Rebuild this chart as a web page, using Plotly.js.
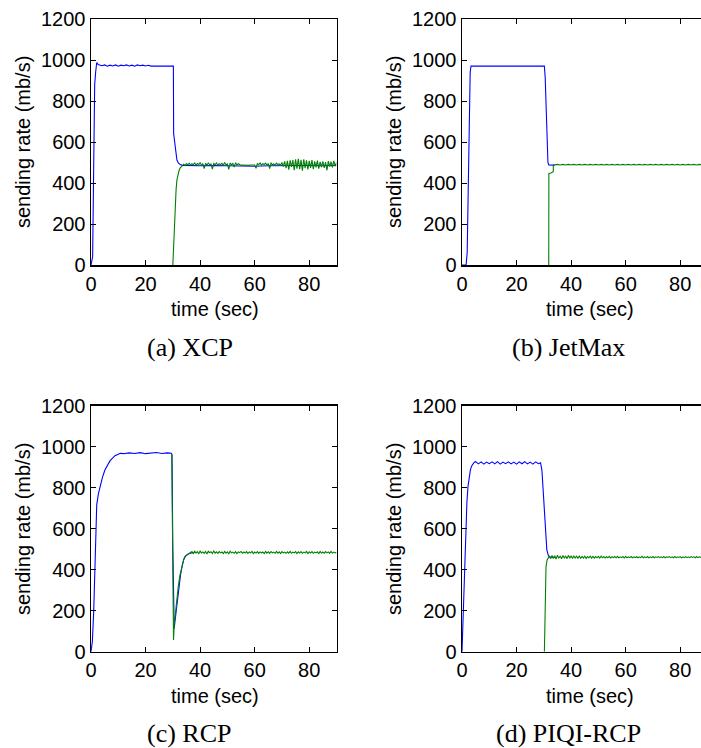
<!DOCTYPE html>
<html>
<head>
<meta charset="utf-8">
<script src="https://cdn.plot.ly/plotly-3.0.1.min.js"></script>
<style>
html,body{margin:0;padding:0;overflow:hidden;background:#fff;}
#chart{width:710px;height:748px;}
</style>
</head>
<body>
<div id="chart"></div>
<script>
// ---------------- DATA ----------------
// (a) XCP
const xcpBlueT = [0,0.3,0.6,1.0,1.35,1.7,2.1,2.6,3.2,4,5,6,7,8,9,10,11,12,13,14,15,16,17,18,19,20,21,22,25,28,30.2,30.3,30.6,31.0,31.5,32.0,32.7,33.5,35,40,45,50,55,60,65,70,75,80,85,90];
const xcpBlueV = [0,15,40,500,880,940,988,978,975,972,976,970,975,971,976,970,975,972,976,971,975,970,976,972,975,971,974,970,970,970,970,640,600,555,512,498,490,486,485,484,485,484,482,482,484,485,484,485,484,485];
const xcpGreenT = [30.0,30.2,30.4,30.6,30.9,31.2,31.5,31.9,32.3,32.7,33.2,33.7,
  34,34.5,35,35.5,36,36.5,37,37.5,38,38.5,39,39.5,40,40.5,41,41.5,42,42.5,43,43.5,44,44.5,45,45.5,46,46.5,47,47.5,48,48.5,49,49.5,
  50,50.5,51,51.5,52,52.5,53,53.5,54,54.5,55,55.5,56,56.5,57,57.5,58,58.5,59,59.5,60,60.5,61,61.5,62,62.5,63,63.5,64,64.5,65,65.5,
  66,66.5,67,67.5,68,68.5,69,69.5,70,70.5,71,71.5,72,72.5,73,73.5,74,74.5,75,75.5,76,76.5,77,77.5,78,78.5,79,79.5,80,80.5,81,81.5,
  82,82.5,83,83.5,84,84.5,85,85.5,86,86.5,87,87.5,88,88.5,89,89.5,90];
const xcpGreenV = [0,60,150,236,310,370,415,445,462,474,482,488,
  492,486,495,488,497,487,494,489,498,486,495,490,499,487,494,470,496,488,497,490,493,468,495,489,498,487,494,490,496,486,500,488,
  493,466,497,489,495,478,499,488,494,490,486,488,487,486,488,487,486,488,487,486,488,472,496,489,498,487,494,490,497,488,495,470,
  499,488,494,486,497,490,493,487,500,480,505,472,508,465,510,478,512,462,515,470,518,468,513,460,516,472,510,466,508,474,512,468,
  505,476,509,470,503,478,506,474,502,462,507,480,504,476,508,482,500];

// (b) JetMax
const jetBlueT = [0,1.5,1.9,2.3,2.7,3.0,3.3,6,9,12,15,18,21,24,27,30.2,30.5,30.7,30.9,31.1,31.3,31.5,31.8,33.5,34];
const jetBlueV = [0,0,60,400,800,940,970,971,970,971,970,971,970,971,970,970,915,830,740,630,540,500,488,487,487];
const jetGreenT = [31.8,31.85,32.6,33.2,33.45,33.5,34,35,36,37,38,39,40,41,42,43,44,45,46,47,48,49,50,51,52,53,54,55,56,57,58,59,60,
  61,62,63,64,65,66,67,68,69,70,71,72,73,74,75,76,77,78,79,80,81,82,83,84,85,86,87,88,89,90];
const jetGreenV = [0,447,449,452,455,487,488,491,488,491,488,491,488,491,488,491,488,491,488,491,488,491,488,491,488,491,488,491,488,491,488,491,488,
  491,488,491,488,491,488,491,488,491,488,491,488,491,488,491,488,491,488,491,488,491,488,491,488,491,488,491,488,491,488];

// (c) RCP
const rcpBlueT = [0,0.5,1.0,1.5,2.1,2.7,3.3,4.2,5.1,6,7,8,8.8,10,10.7,12,14,16,18,20,22,24,26,28,29.4,29.7,30.0,30.5,30.8,31.2,31.7,32.2,32.8,33.4,34,34.6,35.5,36.4,38];
const rcpBlueV = [0,50,200,470,716,770,805,850,886,910,932,946,956,963,968,966,970,967,971,966,969,972,967,970,968,960,500,114,150,200,262,318,372,418,450,466,476,481,484];
const rcpGreenT = [29.6,30.0,30.25,30.5,31.0,31.5,32.0,32.6,33.3,34,34.5,35.5,36.4,
  37,37.5,38,38.5,39,39.5,40,40.5,41,41.5,42,42.5,43,43.5,44,44.5,45,45.5,46,46.5,
  47,47.5,48,48.5,49,49.5,50,50.5,51,51.5,52,52.5,53,53.5,54,54.5,55,55.5,56,56.5,
  57,57.5,58,58.5,59,59.5,60,60.5,61,61.5,62,62.5,63,63.5,64,64.5,65,65.5,66,66.5,
  67,67.5,68,68.5,69,69.5,70,70.5,71,71.5,72,72.5,73,73.5,74,74.5,75,75.5,76,76.5,
  77,77.5,78,78.5,79,79.5,80,80.5,81,81.5,82,82.5,83,83.5,84,84.5,85,85.5,86,86.5,
  87,87.5,88,88.5,89,89.5,90];
const rcpGreenV = [965,500,57,130,200,265,320,372,418,450,465,476,482,
  489,479,490,481,488,478,491,482,487,480,489,477,490,483,488,479,491,481,487,480,
  488,482,486,479,489,481,487,478,490,482,486,480,488,479,487,483,489,480,486,481,
  488,480,487,482,489,479,486,481,488,480,487,482,486,479,489,481,487,480,488,482,
  486,480,489,481,487,479,488,482,486,480,487,481,489,480,486,482,488,479,487,481,
  488,480,486,482,489,479,487,481,488,480,486,482,487,479,489,481,486,480,488,482,
  487,480,489,481,486,482,485];

// (d) PIQI-RCP
const piqiBlueT = [0,0.3,0.62,1.0,1.36,1.8,2.2,2.6,3.07,3.5,4.05,4.5,5.0,6,7,8,9,10,11,12,13,14,15,16,17,18,19,20,21,22,23,24,25,26,27,28,28.8,29.3,29.9,30.5,31.1,31.7,32.5,34];
const piqiBlueV = [0,120,301,480,626,730,805,855,886,905,916,924,927,916,926,915,925,917,926,916,927,915,925,917,926,916,925,915,926,917,927,916,925,915,926,917,922,885,756,594,496,467,461,460];
const piqiGreenT = [30.2,30.35,30.5,30.8,31.2,31.6,32,32.5,
  33,33.5,34,34.5,35,35.5,36,36.5,37,37.5,38,38.5,39,39.5,40,40.5,41,41.5,42,42.5,
  43,43.5,44,44.5,45,45.5,46,46.5,47,47.5,48,48.5,49,49.5,50,50.5,51,51.5,52,52.5,
  53,53.5,54,54.5,55,55.5,56,56.5,57,57.5,58,58.5,59,59.5,60,60.5,61,61.5,62,62.5,
  63,63.5,64,64.5,65,65.5,66,66.5,67,67.5,68,68.5,69,69.5,70,70.5,71,71.5,72,72.5,
  73,73.5,74,74.5,75,75.5,76,76.5,77,77.5,78,78.5,79,79.5,80,80.5,81,81.5,82,82.5,
  83,83.5,84,84.5,85,85.5,86,86.5,87,87.5,88,88.5,89,89.5,90];
const piqiGreenV = [0,150,301,415,448,458,465,454,
  470,455,468,452,471,456,467,453,469,457,466,454,470,456,468,455,467,457,466,456,
  467,456,465,457,466,455,464,458,466,457,465,456,464,458,465,457,466,458,464,457,
  464,458,465,457,463,459,464,458,465,458,463,459,464,457,465,458,463,459,464,458,
  463,459,464,458,463,459,465,458,463,459,464,458,463,459,464,458,463,460,464,459,
  463,459,464,458,463,460,464,459,463,458,464,459,463,460,464,458,463,459,464,459,
  463,459,464,460,463,458,464,459,463,460,464,459,463,460,462];

const xTickVals = [0,20,40,60,80];
const yTickVals = [0,200,400,600,800,1000,1200];
const captions = ['(a) XCP','(b) JetMax','(c) RCP','(d) PIQI-RCP'];
const xTitle = 'time (sec)';
const yTitle = 'sending rate (mb/s)';

// ---------------- LAYOUT ----------------
const W = 710, H = 748;
const px = v => v / W;
const py = v => 1 - v / H;
const BLUE = '#0000ff', GREEN = '#008000';
const sans = 'Liberation Sans, Arial, sans-serif';
const serif = 'Liberation Serif, Times New Roman, serif';

function line(x, y, color, xa, ya) {
  return {x: x, y: y, type: 'scatter', mode: 'lines', xaxis: xa, yaxis: ya,
          line: {color: color, width: 1.1}, hoverinfo: 'skip', showlegend: false};
}

const data = [
  line(xcpBlueT, xcpBlueV, BLUE, 'x', 'y'),
  line(xcpGreenT, xcpGreenV, GREEN, 'x', 'y'),
  line(jetBlueT, jetBlueV, BLUE, 'x2', 'y2'),
  line(jetGreenT, jetGreenV, GREEN, 'x2', 'y2'),
  line(rcpBlueT, rcpBlueV, BLUE, 'x3', 'y3'),
  line(rcpGreenT, rcpGreenV, GREEN, 'x3', 'y3'),
  line(piqiBlueT, piqiBlueV, BLUE, 'x4', 'y4'),
  line(piqiGreenT, piqiGreenV, GREEN, 'x4', 'y4'),
];

function xAxis(left, right, anchor) {
  return {domain: [px(left), px(right)], range: [0, 90], anchor: anchor,
          tickvals: xTickVals, ticks: 'inside', ticklen: 5, tickwidth: 1, tickcolor: '#000',
          showline: true, linecolor: '#000', linewidth: 1.5, mirror: 'ticks',
          showgrid: false, zeroline: false, tickfont: {family: sans, size: 20, color: '#000'}};
}
function yAxis(top, bottom, anchor) {
  return {domain: [py(bottom), py(top)], range: [0, 1200], anchor: anchor,
          tickvals: yTickVals, ticks: 'inside', ticklen: 5, tickwidth: 1, tickcolor: '#000',
          showline: true, linecolor: '#000', linewidth: 1.5, mirror: 'ticks',
          showgrid: false, zeroline: false, tickfont: {family: sans, size: 20, color: '#000'}};
}

const Lx = [91, 462], Rx = [336.5, 707.5];
const Ty = [19, 405.7], By = [265, 651.7];

function ann(text, x, y, font, angle) {
  const a = {text: text, x: px(x), y: py(y), xref: 'paper', yref: 'paper',
             xanchor: 'center', yanchor: 'middle', showarrow: false, font: font};
  if (angle !== undefined) a.textangle = angle;
  return a;
}

const annotations = [];
const ylabX = [23, 394];
const xlabX = [214.5, 590];
const capX = [190, 568];
const rowsY = {xlab: [309, 696], cap: [347, 733], ylab: [142, 529]};
for (let r = 0; r < 2; r++) {
  for (let c = 0; c < 2; c++) {
    annotations.push(ann(yTitle, ylabX[c], rowsY.ylab[r], {family: sans, size: 20, color: '#000'}, -90));
    annotations.push(ann(xTitle, xlabX[c], rowsY.xlab[r], {family: sans, size: 20, color: '#000'}));
    annotations.push(ann(captions[r * 2 + c], capX[c], rowsY.cap[r], {family: serif, size: 26, color: '#000'}));
  }
}

const layout = {
  width: W, height: H, margin: {l: 0, r: 0, t: 0, b: 0},
  paper_bgcolor: '#fff', plot_bgcolor: '#fff', showlegend: false,
  xaxis: xAxis(Lx[0], Rx[0], 'y'),   yaxis: yAxis(Ty[0], By[0], 'x'),
  xaxis2: xAxis(Lx[1], Rx[1], 'y2'), yaxis2: yAxis(Ty[0], By[0], 'x2'),
  xaxis3: xAxis(Lx[0], Rx[0], 'y3'), yaxis3: yAxis(Ty[1], By[1], 'x3'),
  xaxis4: xAxis(Lx[1], Rx[1], 'y4'), yaxis4: yAxis(Ty[1], By[1], 'x4'),
  annotations: annotations
};

Plotly.newPlot('chart', data, layout, {staticPlot: true, displayModeBar: false});
</script>
</body>
</html>
